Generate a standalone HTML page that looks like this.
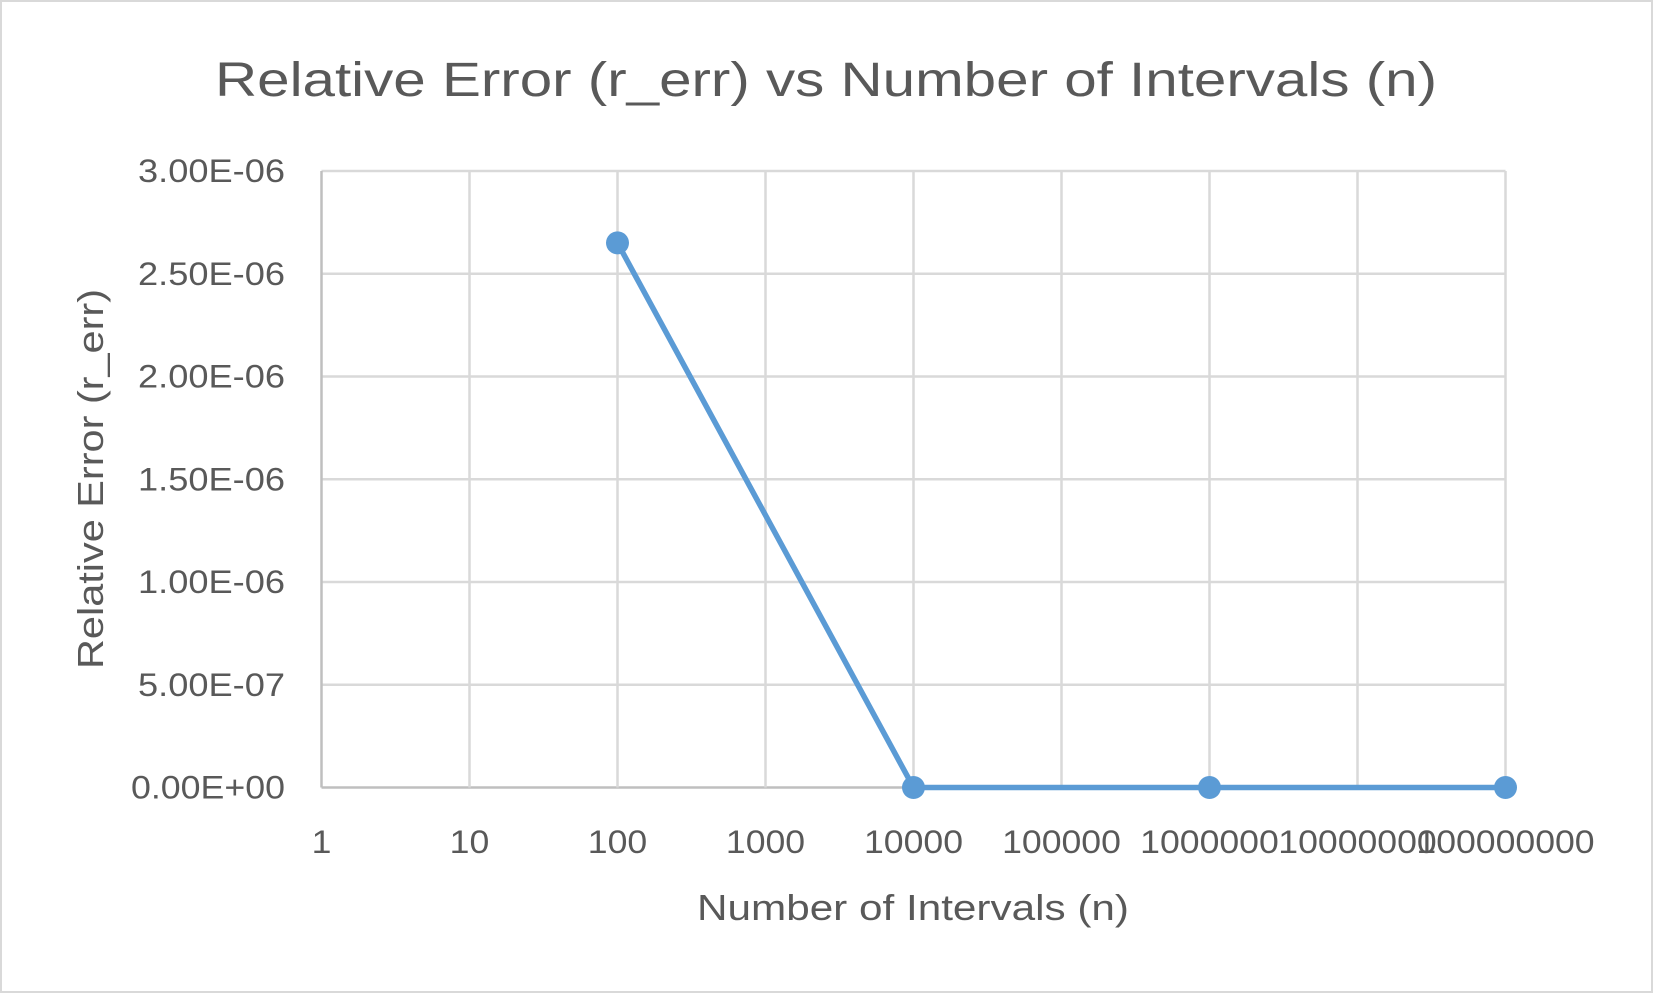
<!DOCTYPE html>
<html><head><meta charset="utf-8"><style>
html,body{margin:0;padding:0;background:#fff}
svg{display:block}
text{font-family:"Liberation Sans",sans-serif;fill:#595959}
</style></head><body>
<svg id="chart" width="1653" height="993" viewBox="0 0 1653 993" xmlns="http://www.w3.org/2000/svg">
<rect x="1" y="1" width="1651" height="991" fill="#fff" stroke="#d9d9d9" stroke-width="2"/>
<text x="826" y="96" text-anchor="middle" font-size="48" textLength="1222" lengthAdjust="spacingAndGlyphs">Relative Error (r_err) vs Number of Intervals (n)</text>
<g id="grid"></g>
<g id="yticks"></g>
<g id="xticks"></g>
<g id="series"></g>
<text x="913" y="920" text-anchor="middle" font-size="36" textLength="432" lengthAdjust="spacingAndGlyphs">Number of Intervals (n)</text>
<text transform="translate(103,479) rotate(-90)" text-anchor="middle" font-size="36" textLength="380" lengthAdjust="spacingAndGlyphs">Relative Error (r_err)</text>
</svg>
<script>
const xTickLabels=["1","10","100","1000","10000","100000","1000000","10000000","100000000"];
const yTickValues=[0,5e-7,1e-6,1.5e-6,2e-6,2.5e-6,3e-6];
const yTickLabels=["0.00E+00","5.00E-07","1.00E-06","1.50E-06","2.00E-06","2.50E-06","3.00E-06"];
const nValues=[100,10000,1000000,100000000];
const errValues=[2.65e-6,1e-10,1e-12,1e-14];
const L=321.5,R=1505.5,T=171,B=787.5,NS="http://www.w3.org/2000/svg";
const xs=v=>L+(Math.log10(v)-0)/8*(R-L);
const ys=v=>B-v/3e-6*(B-T);
function mk(tag,attrs,parent){const e=document.createElementNS(NS,tag);for(const k in attrs)e.setAttribute(k,attrs[k]);parent.appendChild(e);return e;}
const grid=document.getElementById('grid'),yt=document.getElementById('yticks'),xt=document.getElementById('xticks'),se=document.getElementById('series');
yTickValues.forEach((v,i)=>{
 const l=mk('line',{x1:L,x2:R,y1:ys(v),y2:ys(v),stroke:i==0?'#bfbfbf':'#d9d9d9','stroke-width':2.5},grid);
 
 
 const lab=yTickLabels[i];
 const t=mk('text',{x:285,y:ys(v)+11,'text-anchor':'end','font-size':32,textLength:lab.includes('+')?154:147,lengthAdjust:'spacingAndGlyphs'},yt);
 t.textContent=lab;
 
 
});
xTickLabels.forEach((s,i)=>{
 const x=xs(Math.pow(10,i));
 const l=mk('line',{x1:x,x2:x,y1:T,y2:B,stroke:i==0?'#bfbfbf':'#d9d9d9','stroke-width':2.5},grid);
 
 
 const t=mk('text',{x:x,y:853,'text-anchor':'middle','font-size':32,textLength:s.length*19.8,lengthAdjust:'spacingAndGlyphs'},xt);
 t.textContent=s;
 
 
});
const pts=nValues.map((n,i)=>[xs(n),ys(errValues[i])]);
const pl=mk('polyline',{points:pts.map(p=>p.join(',')).join(' '),fill:'none',stroke:'#5b9bd5','stroke-width':5.5,'stroke-linejoin':'round'},se);


pts.forEach(p=>{
 const c=mk('circle',{cx:p[0],cy:p[1],r:11.5,fill:'#5b9bd5'},se);
 
 
});
</script>
</body></html>
